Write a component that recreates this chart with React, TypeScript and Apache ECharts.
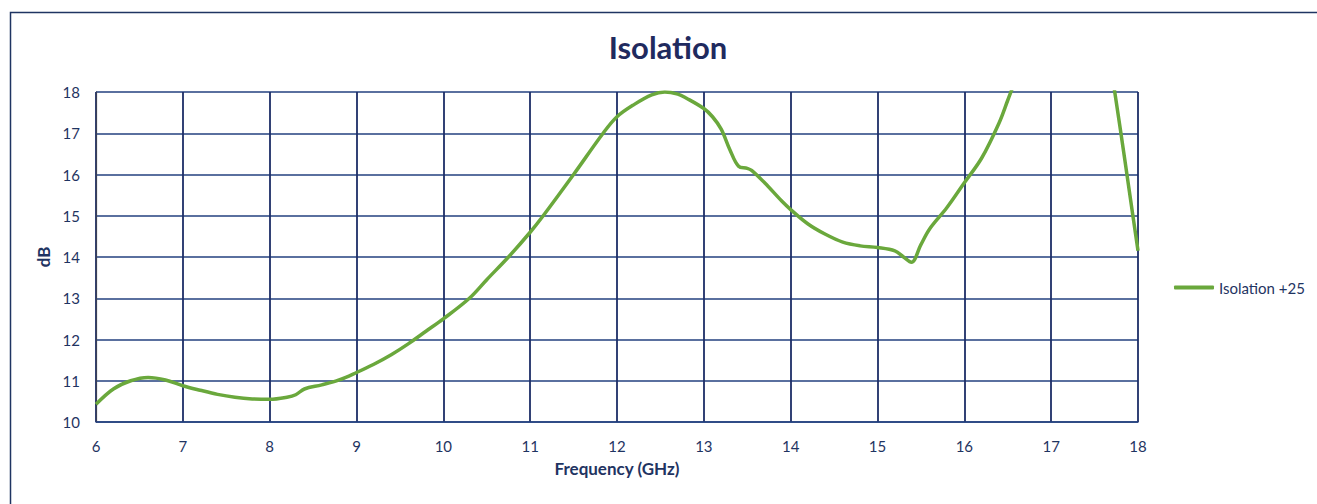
import React, { useEffect, useRef } from "react";
import * as echarts from "echarts";

const freqGHz = [
  6.0, 6.2, 6.4, 6.6, 6.8, 7.0, 7.2, 7.4, 7.6, 7.8, 8.0, 8.2, 8.3, 8.4, 8.6, 8.8,
  9.0, 9.2, 9.4, 9.6, 9.8, 10.0, 10.3, 10.5, 10.75, 11.0, 11.15, 11.5, 11.84, 12.0,
  12.2, 12.4, 12.55, 12.7, 12.8, 13.0, 13.1, 13.2, 13.3, 13.4, 13.5, 13.55, 13.7,
  13.9, 14.0, 14.2, 14.4, 14.6, 14.8, 15.0, 15.2, 15.3, 15.39, 15.5, 15.6, 15.8,
  16.0, 16.2, 16.4, 16.5, 16.6, 16.8, 17.0, 17.2, 17.4, 17.5, 17.6, 17.7, 17.8,
  17.9, 18.0,
];
const isolationDb = [
  10.43, 10.8, 11.0, 11.08, 11.02, 10.88, 10.77, 10.67, 10.6, 10.56, 10.55, 10.6,
  10.66, 10.8, 10.9, 11.02, 11.2, 11.4, 11.63, 11.9, 12.2, 12.5, 13.0, 13.45, 14.0,
  14.6, 15.0, 16.0, 17.0, 17.4, 17.7, 17.93, 18.0, 17.95, 17.85, 17.6, 17.4, 17.1,
  16.6, 16.2, 16.15, 16.1, 15.8, 15.35, 15.15, 14.8, 14.55, 14.36, 14.27, 14.23,
  14.15, 14.0, 13.87, 14.3, 14.68, 15.2, 15.8, 16.4, 17.25, 17.8, 18.35, 19.5, 20.6,
  21.3, 21.2, 20.8, 19.9, 18.45, 17.05, 15.6, 14.15,
];
const xTicks = [6, 7, 8, 9, 10, 11, 12, 13, 14, 15, 16, 17, 18];
const yTicks = [10, 11, 12, 13, 14, 15, 16, 17, 18];

const NAVY = "#1f3462";
const TITLE = "#1f2a5e";
const GRID = "#23407f";
const FONT = "Lato, 'Open Sans', sans-serif";

export default function App() {
  const ref = useRef<HTMLDivElement>(null);
  useEffect(() => {
    if (!ref.current) return;
    const chart = echarts.init(ref.current, undefined, { renderer: "svg" });
    const series = freqGHz.map((f, i) => [f, isolationDb[i]]);
    chart.setOption({
      animation: false,
      backgroundColor: "#ffffff",
      title: {
        text: "Isolation",
        left: 668,
        top: 31,
        padding: 0,
        textAlign: "center",
        textStyle: { color: TITLE, fontSize: 31, fontWeight: "bold", fontFamily: FONT },
      },
      graphic: [
        {
          type: "rect",
          shape: { x: 10.5, y: 12.5, width: 1340, height: 520 },
          style: { fill: "none", stroke: NAVY, lineWidth: 1.5 },
          silent: true,
        },
      ],
      legend: {
        orient: "vertical",
        left: 1174,
        top: 280,
        padding: 0,
        itemWidth: 40,
        itemHeight: 4,
        itemGap: 4,
        icon: "roundRect",
        textStyle: { color: NAVY, fontSize: 15, fontFamily: FONT },
        data: ["Isolation +25"],
      },
      grid: { left: 96, right: 179, top: 92, bottom: 82, containLabel: false },
      xAxis: {
        type: "value",
        min: xTicks[0],
        max: xTicks[xTicks.length - 1],
        interval: 1,
        name: "Frequency (GHz)",
        nameLocation: "middle",
        nameGap: 38,
        nameTextStyle: { color: NAVY, fontSize: 17, fontWeight: "bold", fontFamily: FONT },
        axisLine: { show: true, lineStyle: { color: GRID, width: 1.5 } },
        axisTick: { show: false },
        axisLabel: { color: NAVY, fontSize: 15, fontFamily: FONT, margin: 16 },
        splitLine: { show: true, lineStyle: { color: "#1c2d66", width: 1.8 } },
      },
      yAxis: {
        type: "value",
        min: yTicks[0],
        max: yTicks[yTicks.length - 1],
        interval: 1,
        name: "dB",
        nameLocation: "middle",
        nameGap: 42,
        nameRotate: 90,
        nameTextStyle: { color: NAVY, fontSize: 17, fontWeight: "bold", fontFamily: FONT },
        axisLine: { show: true, lineStyle: { color: "#3a3f55", width: 1.2 } },
        axisTick: { show: false },
        axisLabel: { color: NAVY, fontSize: 15, fontFamily: FONT, margin: 16 },
        splitLine: { show: true, lineStyle: { color: GRID, width: 1.5 } },
      },
      series: [
        {
          name: "Isolation +25",
          type: "line",
          data: series,
          smooth: 0.35,
          showSymbol: false,
          clip: true,
          lineStyle: { color: "#6aa83c", width: 3.5 },
          itemStyle: { color: "#6aa83c" },
        },
      ],
    });
    return () => chart.dispose();
  }, []);
  return (
    <div
      ref={ref}
      style={{ position: "absolute", left: 0, top: 0, width: 1317, height: 504 }}
    />
  );
}
